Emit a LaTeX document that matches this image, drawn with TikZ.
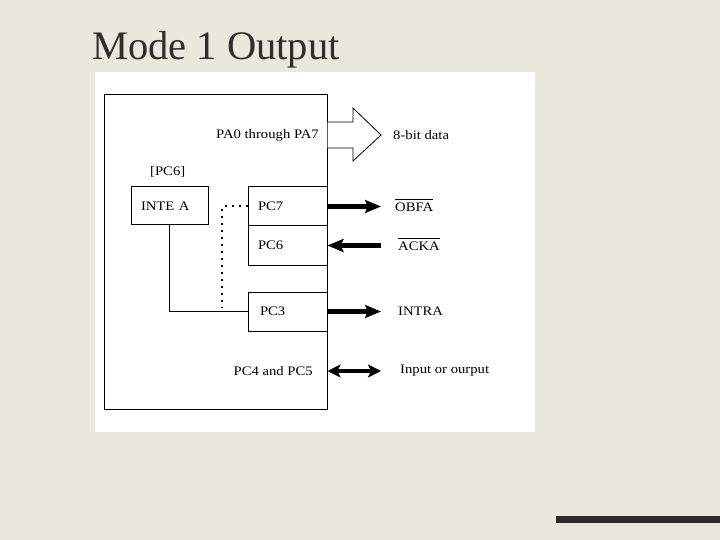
\documentclass[tikz,border=0pt]{standalone}
\usepackage{fontspec}
\setmainfont{Liberation Serif}
\newfontfamily\diagfont[FakeStretch=1.13]{Liberation Serif}
\usetikzlibrary{arrows.meta}
\definecolor{bg}{HTML}{E8E8DC}
\definecolor{ttl}{HTML}{2E2E2E}
\definecolor{barc}{HTML}{2B2B2B}
\newcommand{\barred}[1]{$\overline{\mbox{\rule{0pt}{11.5pt}#1}}$}
\begin{document}
\begin{tikzpicture}[x=1pt,y=-1pt,
  lbl/.style={font=\diagfont\fontsize{13}{15}\selectfont, inner sep=0pt},
  regbox/.style={draw, line width=1pt, inner sep=0pt, inner xsep=10pt, align=left,
     font=\diagfont\fontsize{13}{15}\selectfont},
  fatarrow/.style={line width=5.5pt, -{Stealth[length=16pt,width=13pt,inset=3pt]}},
  duoarrow/.style={line width=4.5pt, {Stealth[length=13pt,width=13pt,inset=3pt]}-{Stealth[length=13pt,width=13pt,inset=3pt]}}
]
\fill[bg] (0,0) rectangle (720,540);
\useasboundingbox (0,0) rectangle (720,540);
\fill[white] (95,72) rectangle (535,432);
\fill[barc] (556,516) rectangle (720,523);

\node[anchor=base west, font=\fontsize{40.5}{45}\selectfont, text=ttl, inner sep=0pt] (title) at (92,60) {Mode 1 Output};

% main chip box
\node[draw, line width=1pt, minimum width=223pt, minimum height=314pt, inner sep=0pt] (main) at (215.5,252) {};

% inner boxes
\node[regbox, minimum height=38pt, text width=57pt] (intea) at (169.5,206) {INTE A};
\node[regbox, minimum height=39pt, text width=59pt] (pc7) at (287.5,206.5) {PC7};
\node[regbox, minimum height=39pt, text width=59pt] (pc6) at (287.5,245.5) {PC6};
\node[regbox, minimum height=39pt, text width=59pt] (pc3) at (287.5,311.5) {\hspace{2pt}PC3};
\node[lbl] (pcsix) at (167.7,172) {[PC6]};

% labels
\node[lbl, anchor=east] (pa) at (319,135) {PA0 through PA7};
\node[lbl, anchor=west] (data) at (393,135) {8-bit data};
\node[lbl, anchor=west] (obfa) at (395,205) {\barred{OBFA}};
\node[lbl, anchor=west] (acka) at (398,244) {\barred{ACKA}};
\node[lbl, anchor=west] (intra) at (398,311.5) {INTRA};
\node[lbl, anchor=east] (pc45) at (313,371) {PC4 and PC5};
\node[lbl, anchor=west] (io) at (400,371) {Input or ourput};

\coordinate (tipx) at (381,0);
\coordinate (dotend) at (221.7,308);

% hollow data arrow
\draw[line width=0.8pt, fill=white] (main.east |- 0,122) -- (353,122) -- (353,108) -- (381,135) -- (353,161) -- (353,148) -- (main.east |- 0,148);

% signal arrows
\draw[fatarrow] (pc7.east) -- (pc7.east -| tipx);
\draw[fatarrow] (pc6.east -| tipx) -- (pc6.east);
\draw[fatarrow] (pc3.east) -- (pc3.east -| tipx);
\draw[duoarrow] (main.east |- pc45) -- (tipx |- pc45);

% internal connections
\draw[line width=2pt, dash pattern=on 2pt off 5pt] (pc7.west) -| (dotend);
\draw[line width=1pt] (intea.south) |- (pc3.west);
\end{tikzpicture}
\end{document}
